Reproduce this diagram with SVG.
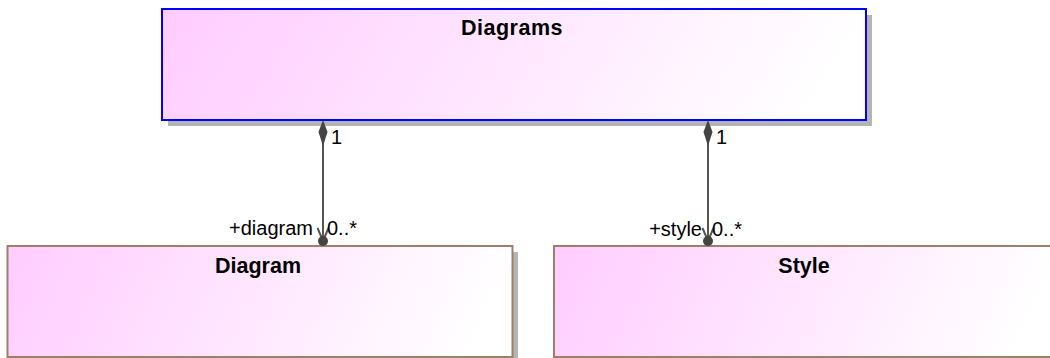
<svg xmlns="http://www.w3.org/2000/svg" width="1050" height="358" viewBox="0 0 1050 358">
  <defs>
    <linearGradient id="fill" x1="0" y1="0" x2="1" y2="0.1">
      <stop offset="0" stop-color="#ffccff"/>
      <stop offset="1" stop-color="#ffffff"/>
    </linearGradient>
    <style>
      .shadow { fill: #b4b4b4; stroke: none; }
      .box { fill: url(#fill); stroke-width: 2; }
      .main { stroke: #0000ff; }
      .sub { stroke: #9c806c; }
      .title { font-family: "Liberation Sans", Arial, sans-serif; font-weight: bold; font-size: 21.5px; fill: #000; text-anchor: middle; }
      .lbl { font-family: "Liberation Sans", Arial, sans-serif; font-size: 20px; fill: #000; }
      .line { stroke: #555555; stroke-width: 2; fill: none; }
      .solid { fill: #444444; stroke: none; }
    </style>
  </defs>
  <rect width="1050" height="358" fill="#ffffff"/>

  <g id="node-diagrams">
    <rect class="shadow" x="168" y="15" width="704" height="111"/>
    <rect class="box main" x="162" y="9" width="704" height="111"/>
    <text class="title" x="512" y="35" letter-spacing="0.5">Diagrams</text>
  </g>

  <g id="node-diagram">
    <rect class="shadow" x="13" y="252" width="505" height="111"/>
    <rect class="box sub" x="7.5" y="246" width="505" height="111"/>
    <text class="title" x="258" y="273">Diagram</text>
  </g>

  <g id="node-style">
    <rect class="shadow" x="560" y="252" width="505" height="111"/>
    <rect class="box sub" x="554" y="246" width="505" height="111"/>
    <text class="title" x="804" y="273">Style</text>
  </g>

  <g id="connectors">
    <g id="conn-diagram">
      <line class="line" x1="323" y1="140" x2="323" y2="241"/>
      <polygon class="solid" points="323,120 327.5,132 323,146 318.5,132"/>
      <polyline class="line" points="317.5,228 323,241 328.5,228"/>
      <circle class="solid" cx="323" cy="241" r="5"/>
      <text class="lbl" x="331" y="144">1</text>
      <text class="lbl" x="313" y="235" text-anchor="end">+diagram</text>
      <text class="lbl" x="327" y="235">0..*</text>
    </g>
    <g id="conn-style">
      <line class="line" x1="708" y1="140" x2="708" y2="241"/>
      <polygon class="solid" points="708,120 712.5,132 708,146 703.5,132"/>
      <polyline class="line" points="702.5,228 708,241 713.5,228"/>
      <circle class="solid" cx="708" cy="241" r="5"/>
      <text class="lbl" x="716" y="144">1</text>
      <text class="lbl" x="702" y="236" text-anchor="end">+style</text>
      <text class="lbl" x="712" y="236">0..*</text>
    </g>
  </g>
</svg>
